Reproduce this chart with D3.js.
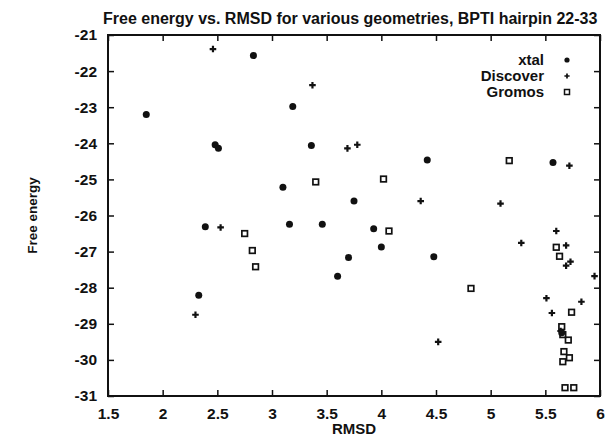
<!DOCTYPE html>
<html>
<head>
<meta charset="utf-8">
<script src="https://cdn.jsdelivr.net/npm/d3@7"></script>
<style>
  body { margin: 0; background: #fff; }
  svg text { font-family: "Liberation Sans", Arial, sans-serif; font-weight: bold; fill: #111; }
</style>
</head>
<body>
<svg id="chart"></svg>
<script>
// RMSD / free energy pairs
const xtalRmsd = [1.85, 2.83, 2.48, 2.51, 2.39, 2.33, 3.19, 3.36, 3.10, 3.16, 3.46, 3.75, 3.93, 4.00, 3.70, 3.60, 4.42, 4.48, 5.57, 5.65];
const xtalEnergy = [-23.2, -21.57, -24.04, -24.14, -26.31, -28.21, -22.98, -24.06, -25.22, -26.24, -26.24, -25.6, -26.37, -26.87, -27.16, -27.68, -24.46, -27.14, -24.53, -29.25];

const discoverRmsd = [2.46, 2.53, 2.30, 3.37, 3.69, 3.78, 4.36, 4.52, 5.09, 5.28, 5.60, 5.69, 5.73, 5.69, 5.72, 5.95, 5.51, 5.83, 5.56, 5.64];
const discoverEnergy = [-21.39, -26.33, -28.75, -22.39, -24.14, -24.04, -25.6, -29.5, -25.67, -26.76, -26.43, -26.83, -27.28, -27.39, -24.62, -27.68, -28.29, -28.39, -28.7, -29.2];

const gromosRmsd = [2.75, 2.82, 2.85, 3.40, 4.02, 4.07, 4.82, 5.17, 5.60, 5.63, 5.74, 5.65, 5.66, 5.71, 5.67, 5.72, 5.66, 5.68, 5.76];
const gromosEnergy = [-26.5, -26.97, -27.42, -25.07, -24.99, -26.43, -28.02, -24.48, -26.88, -27.13, -28.68, -29.08, -29.3, -29.45, -29.77, -29.94, -30.05, -30.77, -30.77];

const xTicks = [1.5, 2, 2.5, 3, 3.5, 4, 4.5, 5, 5.5, 6];
const yTicks = [-21, -22, -23, -24, -25, -26, -27, -28, -29, -30, -31];
const seriesNames = ["xtal", "Discover", "Gromos"];

const title = "Free energy vs. RMSD for various geometries, BPTI hairpin 22-33";
const xLabel = "RMSD";
const yLabel = "Free energy";

const outerW = 608, outerH = 437;
const margin = { top: 35, right: 8, bottom: 41, left: 108 };
const W = outerW - margin.left - margin.right, H = outerH - margin.top - margin.bottom;

const svg = d3.select("#chart").attr("width", outerW).attr("height", outerH);
const root = svg.append("g").attr("transform", `translate(${margin.left},${margin.top})`);

const x = d3.scaleLinear().domain([1.5, 6]).range([0, W]);
const y = d3.scaleLinear().domain([-31, -21]).range([H, 0]);

// gnuplot style: inward ticks on all four sides
const tick = 6;
root.append("g").attr("transform", `translate(0,${H})`)
  .call(d3.axisBottom(x).tickValues(xTicks).tickSizeInner(-tick).tickSizeOuter(0).tickPadding(12).tickFormat(d3.format("")))
  .call(g => g.select(".domain").remove())
  .call(g => g.selectAll("text").attr("font-size", 15.5));
root.append("g")
  .call(d3.axisTop(x).tickValues(xTicks).tickSizeInner(-tick).tickSizeOuter(0).tickFormat(""))
  .call(g => g.select(".domain").remove());
root.append("g")
  .call(d3.axisLeft(y).tickValues(yTicks).tickSizeInner(-tick).tickSizeOuter(0).tickPadding(11).tickFormat(d3.format("")))
  .call(g => g.select(".domain").remove())
  .call(g => g.selectAll("text").attr("font-size", 15.5).text(d => d));
root.append("g").attr("transform", `translate(${W},0)`)
  .call(d3.axisRight(y).tickValues(yTicks).tickSizeInner(-tick).tickSizeOuter(0).tickFormat(""))
  .call(g => g.select(".domain").remove());
root.selectAll(".tick line").attr("stroke", "#111").attr("stroke-width", 1.5);

root.append("rect").attr("width", W).attr("height", H)
  .attr("fill", "none").attr("stroke", "#111").attr("stroke-width", 2);

svg.append("text").attr("x", 103).attr("y", 24).attr("font-size", 16).text(title);
svg.append("text").attr("x", margin.left + W / 2).attr("y", 434).attr("text-anchor", "middle").attr("font-size", 15).text(xLabel);
svg.append("text").attr("transform", `translate(37,${margin.top + H / 2}) rotate(-90)`)
  .attr("text-anchor", "middle").attr("font-size", 13.5).text(yLabel);

const xtalPts = xtalRmsd.map((v, i) => [v, xtalEnergy[i]]);
const discPts = discoverRmsd.map((v, i) => [v, discoverEnergy[i]]);
const gromPts = gromosRmsd.map((v, i) => [v, gromosEnergy[i]]);

root.selectAll("circle.xtal").data(xtalPts).join("circle").attr("class", "xtal")
  .attr("cx", d => x(d[0])).attr("cy", d => y(d[1])).attr("r", 3.5).attr("fill", "#111");

const plus = d3.symbol().type(d3.symbolCross).size(24);
root.selectAll("path.disc").data(discPts).join("path").attr("class", "disc")
  .attr("transform", d => `translate(${x(d[0])},${y(d[1])})`).attr("d", plus).attr("fill", "#111");

root.selectAll("rect.grom").data(gromPts).join("rect").attr("class", "grom")
  .attr("x", d => x(d[0]) - 2.8).attr("y", d => y(d[1]) - 2.8).attr("width", 5.6).attr("height", 5.6)
  .attr("fill", "none").attr("stroke", "#111").attr("stroke-width", 1.7);

// legend
const legend = svg.append("g");
seriesNames.forEach((name, i) => {
  const ly = 60 + i * 16;
  legend.append("text").attr("x", 544).attr("y", ly + 5).attr("text-anchor", "end").attr("font-size", 15).text(name);
  const mx = 567;
  if (i === 0) legend.append("circle").attr("cx", mx).attr("cy", ly).attr("r", 2.6).attr("fill", "#111");
  else if (i === 1) legend.append("path").attr("transform", `translate(${mx},${ly})`).attr("d", d3.symbol().type(d3.symbolCross).size(15)).attr("fill", "#111");
  else legend.append("rect").attr("x", mx - 2.5).attr("y", ly - 2.5).attr("width", 5).attr("height", 5).attr("fill", "none").attr("stroke", "#111").attr("stroke-width", 1.5);
});
</script>
</body>
</html>
